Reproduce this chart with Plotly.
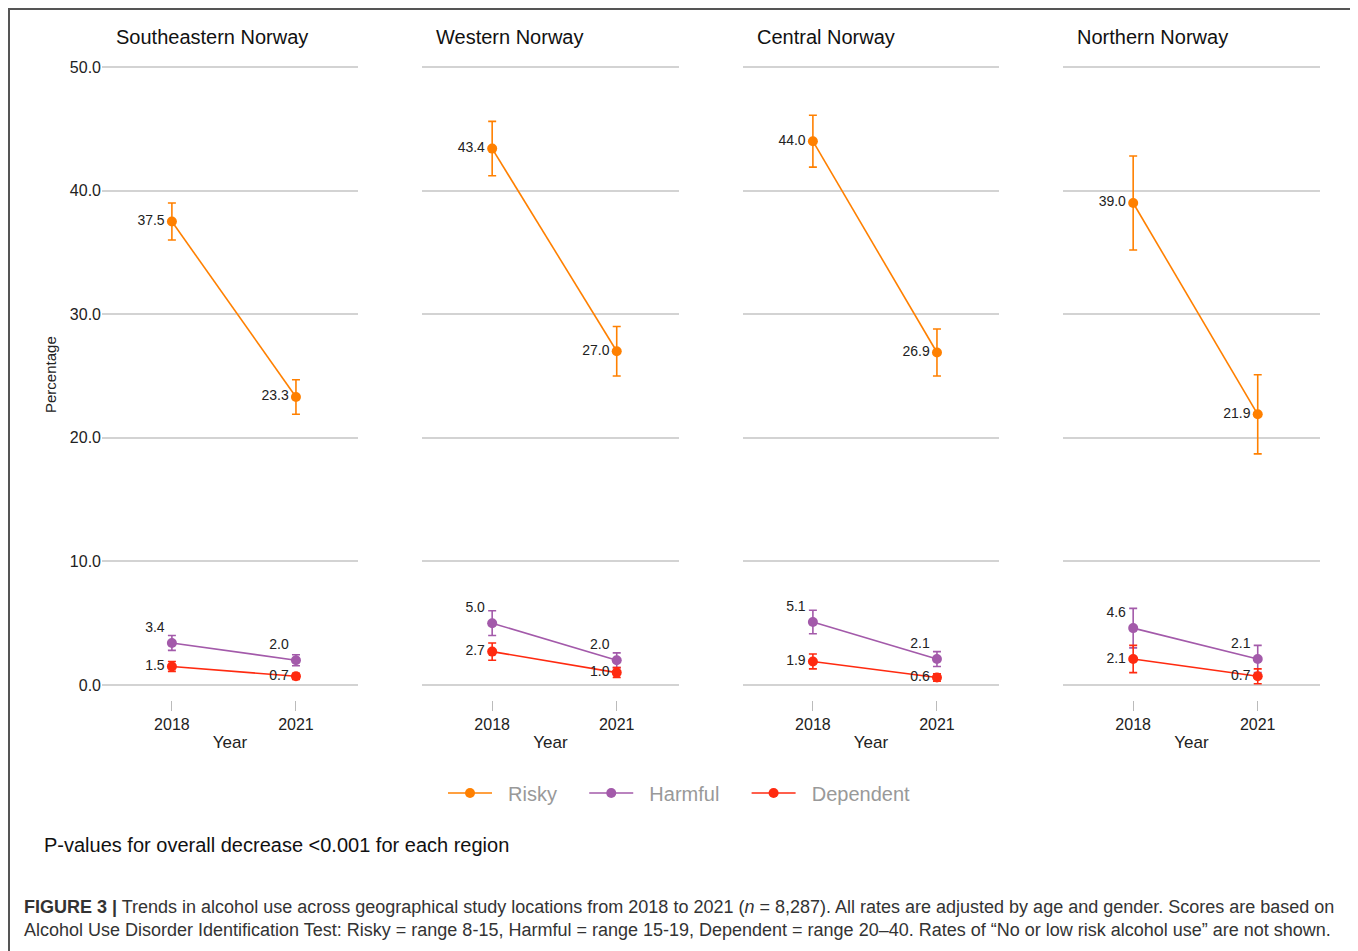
import plotly.graph_objects as go

OX, OY = 8, 8
W, H = 1350, 943

regions = ["Southeastern Norway", "Western Norway", "Central Norway", "Northern Norway"]
years = [2018, 2021]
year_labels = ["2018", "2021"]

risky = [[37.5, 23.3], [43.4, 27.0], [44.0, 26.9], [39.0, 21.9]]
risky_err = [[1.5, 1.4], [2.2, 2.0], [2.1, 1.9], [3.8, 3.2]]
harmful = [[3.4, 2.0], [5.0, 2.0], [5.1, 2.1], [4.6, 2.1]]
harmful_err = [[0.6, 0.45], [1.0, 0.6], [0.95, 0.6], [1.6, 1.1]]
dependent = [[1.5, 0.7], [2.7, 1.0], [1.9, 0.6], [2.1, 0.7]]
dependent_err = [[0.4, 0.25], [0.7, 0.4], [0.6, 0.3], [1.1, 0.6]]

y_ticks = [0, 10, 20, 30, 40, 50]

NB = "\u00a0"
series = [
    ("Risky", NB * 2 + "Risky" + NB * 4, risky, risky_err, "#FF8000", ["middle left", "middle left"]),
    ("Harmful", NB * 2 + "Harmful" + NB * 4, harmful, harmful_err, "#A35AAA", ["top left", "top left"]),
    ("Dependent", NB * 2 + "Dependent", dependent, dependent_err, "#FF2A10", ["middle left", "middle left"]),
]

FONT = "Liberation Sans, Arial, sans-serif"

def px(x):
    return (x - OX) / W

def py(y):
    return 1 - (y - OY) / H

panel_px = [(102, 358), (422, 679), (743, 999), (1063, 1320)]
ydom = [py(699.8), py(59.6)]

fig = go.Figure()

for i in range(4):
    ax = "" if i == 0 else str(i + 1)
    for key, label, vals, errs, color, tpos in series:
        fig.add_trace(go.Scatter(
            x=years, y=vals[i],
            mode="lines+markers+text",
            name=label,
            legendgroup=key,
            showlegend=(i == 0),
            line=dict(color=color, width=1.6),
            marker=dict(color=color, size=10),
            error_y=dict(type="data", array=errs[i], color=color, thickness=1.6, width=4),
            text=[f"{v:.1f}" for v in vals[i]],
            textposition=tpos,
            textfont=dict(family=FONT, size=14, color="#222222"),
            xaxis="x" + ax, yaxis="y" + ax,
            cliponaxis=False,
        ))

layout = dict(
    width=W, height=H,
    margin=dict(l=0, r=0, t=0, b=0),
    paper_bgcolor="white", plot_bgcolor="white",
    font=dict(family=FONT, size=15, color="#222222"),
    showlegend=True,
    legend=dict(orientation="h", x=px(443), y=py(793), xanchor="left", yanchor="middle",
                font=dict(family=FONT, size=20, color="#999999"), itemwidth=44,
                traceorder="normal"),
)

for i in range(4):
    ax = "" if i == 0 else str(i + 1)
    x0, x1 = panel_px[i]
    layout["xaxis" + ax] = dict(
        domain=[px(x0), px(x1)], range=[2016.31, 2022.5], anchor="y" + ax,
        tickvals=years, ticktext=year_labels, ticks="outside", ticklen=10,
        tickcolor="#bbbbbb", tickwidth=1.2, showgrid=False, zeroline=False,
        showline=False, tickfont=dict(size=16, family=FONT, color="#222222"),
        title=dict(text="Year", font=dict(size=17, family=FONT, color="#222222"), standoff=4),
    )
    layout["yaxis" + ax] = dict(
        domain=ydom, range=[-1.2, 50.6], anchor="x" + ax,
        tickvals=y_ticks, tickformat=".1f", showticklabels=(i == 0),
        showgrid=True, gridcolor="#d3d3d3", gridwidth=1.5, zeroline=False,
        showline=False, ticks="", tickfont=dict(size=16, family=FONT, color="#222222"),
    )

fig.update_layout(**layout)

annotations = []
for i in range(4):
    annotations.append(dict(
        text=regions[i], x=px(panel_px[i][0] + 12), y=py(37), xref="paper", yref="paper",
        xanchor="left", yanchor="middle", showarrow=False,
        font=dict(family=FONT, size=20, color="#111111"),
    ))
annotations.append(dict(
    text="Percentage", x=px(50), y=py(375), xref="paper", yref="paper",
    textangle=-90, xanchor="center", yanchor="middle", showarrow=False,
    font=dict(family=FONT, size=15, color="#222222"),
))
annotations.append(dict(
    text="P-values for overall decrease <0.001 for each region", x=px(42), y=py(845),
    xref="paper", yref="paper", xanchor="left", yanchor="middle", showarrow=False,
    font=dict(family=FONT, size=20, color="#111111"),
))
annotations.append(dict(
    text=("<b>FIGURE 3 |</b> Trends in alcohol use across geographical study locations from 2018 to 2021 "
          "(<i>n</i> = 8,287). All rates are adjusted by age and gender. Scores are based on<br>"
          "Alcohol Use Disorder Identification Test: Risky = range 8-15, Harmful = range 15-19, "
          "Dependent = range 20–40. Rates of \u201cNo or low risk alcohol use\u201d are not shown."),
    x=px(22), y=py(918), xref="paper", yref="paper", xanchor="left", yanchor="middle",
    align="left", showarrow=False,
    font=dict(family=FONT, size=18, color="#333333"),
))
fig.update_layout(annotations=annotations)

fig.add_shape(type="rect", xref="paper", yref="paper", x0=px(9), x1=px(1353), y0=py(965), y1=py(9),
              line=dict(color="#555555", width=2), fillcolor="rgba(0,0,0,0)", layer="below")

fig.write_html("out.html")
